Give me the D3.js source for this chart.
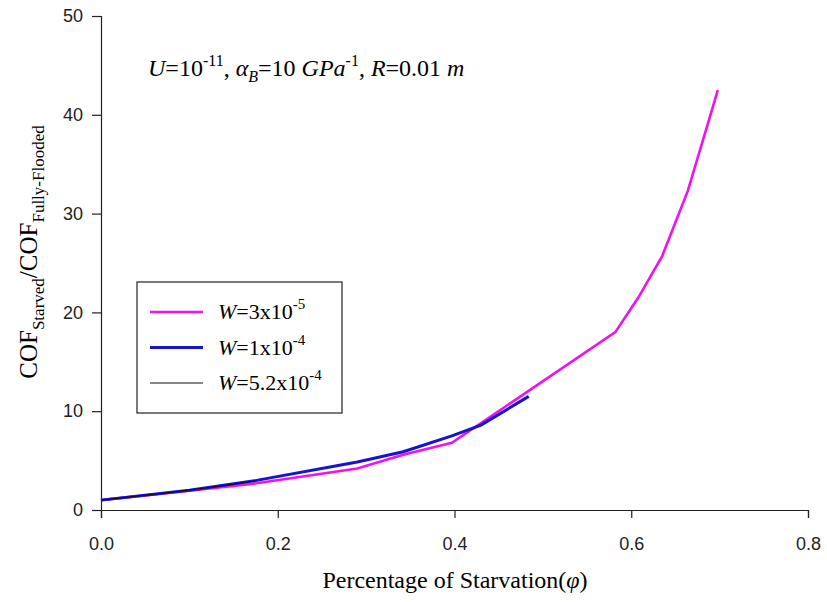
<!DOCTYPE html>
<html>
<head>
<meta charset="utf-8">
<script src="https://cdn.jsdelivr.net/npm/d3@7"></script>
<style>
  body { margin: 0; background: #fff; }
</style>
</head>
<body>
<div id="chart"></div>
<script>
// Data
const phiW3e5 = [0, 0.10, 0.176, 0.29, 0.342, 0.397, 0.582, 0.608, 0.635, 0.664, 0.698]
const cofW3e5 = [1.0, 1.95, 2.7, 4.2, 5.6, 6.8, 18.0, 21.5, 25.7, 32.3, 42.5]

const phiW1e4 = [0, 0.10, 0.176, 0.29, 0.342, 0.397, 0.43, 0.484]
const cofW1e4 = [1.0, 2.0, 3.0, 4.85, 5.9, 7.5, 8.6, 11.5]

const phiW52e4 = [0, 0.06, 0.12, 0.176]
const cofW52e4 = [1.0, 1.6, 2.25, 2.95]

const xTicks = [0, 0.2, 0.4, 0.6, 0.8]
const yTicks = [0, 10, 20, 30, 40, 50]

const WIDTH = 827
const HEIGHT = 602
const margin = {left: 101, top: 16, right: 19, bottom: 92}

const svg = d3.select("#chart")
    .append("svg")
    .attr("width", WIDTH)
    .attr("height", HEIGHT)

const x = d3.scaleLinear().domain([0, 0.8]).range([margin.left, WIDTH - margin.right])
const y = d3.scaleLinear().domain([0, 50]).range([HEIGHT - margin.bottom, margin.top])

// axes
svg.append("g")
    .attr("transform", `translate(0,${y(0)})`)
    .call(d3.axisBottom(x).tickValues(xTicks).tickFormat(d3.format(".1f")).tickSizeOuter(0).tickSize(8).tickPadding(19))
svg.append("g")
    .attr("transform", `translate(${x(0)},0)`)
    .call(d3.axisLeft(y).tickValues(yTicks).tickSizeOuter(0).tickSize(9).tickPadding(9))

svg.selectAll(".tick text")
    .style("font-family", "'Liberation Sans', Arial, sans-serif")
    .style("font-size", "18px")
    .attr("fill", "#222")
svg.selectAll(".domain, .tick line").attr("stroke", "#222").attr("stroke-width", 1.2)

// lines
const line = d3.line().x(d => x(d[0])).y(d => y(d[1]))
const series = [
    {phi: phiW3e5, cof: cofW3e5, color: "#f010f0", width: 2.6},
    {phi: phiW1e4, cof: cofW1e4, color: "#1414d2", width: 3},
    {phi: phiW52e4, cof: cofW52e4, color: "#111", width: 1}
]
series.forEach(s => {
    svg.append("path")
        .datum(d3.zip(s.phi, s.cof))
        .attr("d", line)
        .attr("fill", "none")
        .attr("stroke", s.color)
        .attr("stroke-width", s.width)
})

const serif = "'Liberation Serif', 'Times New Roman', serif"

// annotation
const ann = svg.append("text")
    .attr("x", 148).attr("y", 76)
    .style("font-family", serif)
    .style("font-size", "24px")
ann.append("tspan").attr("font-style", "italic").text("U")
ann.append("tspan").text("=10")
ann.append("tspan").attr("dy", -10).attr("font-size", "16px").text("-11")
ann.append("tspan").attr("dy", 10).text(", ")
ann.append("tspan").attr("font-style", "italic").text("α")
ann.append("tspan").attr("dy", 6).attr("font-size", "16px").attr("font-style", "italic").text("B")
ann.append("tspan").attr("dy", -6).text("=10 ")
ann.append("tspan").attr("font-style", "italic").text("GPa")
ann.append("tspan").attr("dy", -10).attr("font-size", "16px").text("-1")
ann.append("tspan").attr("dy", 10).text(", ")
ann.append("tspan").attr("font-style", "italic").text("R")
ann.append("tspan").text("=0.01 ")
ann.append("tspan").attr("font-style", "italic").text("m")

// legend
const legend = svg.append("g")
legend.append("rect")
    .attr("x", 137).attr("y", 282).attr("width", 205).attr("height", 131)
    .attr("fill", "#fff").attr("stroke", "#222").attr("stroke-width", 1.2)
const legendLabels = [["3x10", "-5"], ["1x10", "-4"], ["5.2x10", "-4"]]
series.forEach((s, i) => {
    const ly = 312 + i * 35.5
    legend.append("line")
        .attr("x1", 150).attr("x2", 203).attr("y1", ly).attr("y2", ly)
        .attr("stroke", s.color).attr("stroke-width", s.width)
    const t = legend.append("text")
        .attr("x", 218).attr("y", ly + 7)
        .style("font-family", serif)
        .style("font-size", "22px")
    t.append("tspan").attr("font-style", "italic").text("W")
    t.append("tspan").text("=" + legendLabels[i][0])
    t.append("tspan").attr("dy", -10).attr("font-size", "15px").text(legendLabels[i][1])
})

// axis titles
const xt = svg.append("text")
    .attr("x", 455).attr("y", 588)
    .attr("text-anchor", "middle")
    .style("font-family", serif)
    .style("font-size", "24px")
xt.append("tspan").text("Percentage of Starvation(")
xt.append("tspan").attr("font-style", "italic").text("φ")
xt.append("tspan").text(")")

const yt = svg.append("text")
    .attr("transform", "translate(37,252) rotate(-90)")
    .attr("text-anchor", "middle")
    .style("font-family", serif)
    .style("font-size", "25px")
yt.append("tspan").text("COF")
yt.append("tspan").attr("dy", 7).attr("font-size", "17px").text("Starved")
yt.append("tspan").attr("dy", -7).text("/COF")
yt.append("tspan").attr("dy", 7).attr("font-size", "17px").text("Fully-Flooded")
</script>
</body>
</html>
